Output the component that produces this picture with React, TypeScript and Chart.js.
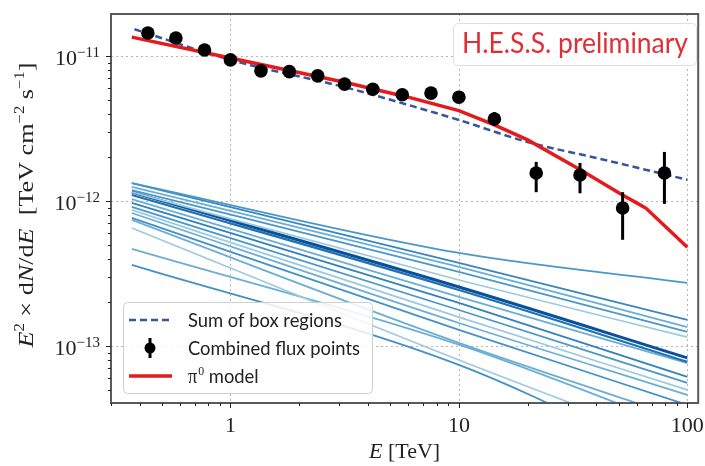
import React, { useEffect, useRef } from 'react';
import { Chart, registerables } from 'chart.js';

Chart.register(...registerables);

// ---------- data ----------
const pointEnergy = [0.435, 0.577, 0.77, 1.0, 1.36, 1.81, 2.41, 3.16, 4.2, 5.65, 7.55, 10.0, 14.3, 21.8, 33.9, 52.1, 79.4];
const pointFlux = [1.44e-11, 1.33e-11, 1.1e-11, 9.4e-12, 7.9e-12, 7.8e-12, 7.3e-12, 6.4e-12, 5.9e-12, 5.4e-12, 5.55e-12, 5.2e-12, 3.68e-12, 1.56e-12, 1.51e-12, 8.95e-13, 1.56e-12];
const pointFluxHigh = [1.5e-11, 1.38e-11, 1.14e-11, 9.7e-12, 8.2e-12, 8.1e-12, 7.6e-12, 6.7e-12, 6.2e-12, 5.75e-12, 5.95e-12, 5.65e-12, 4.1e-12, 1.86e-12, 1.83e-12, 1.15e-12, 2.18e-12];
const pointFluxLow = [1.38e-11, 1.28e-11, 1.06e-11, 9.1e-12, 7.6e-12, 7.5e-12, 7.0e-12, 6.1e-12, 5.6e-12, 5.05e-12, 5.15e-12, 4.75e-12, 3.3e-12, 1.15e-12, 1.13e-12, 5.4e-13, 9.55e-13];

const modelEnergy = [0.37, 1, 3.16, 6, 10, 14.3, 20, 34, 52, 60, 66, 100];
const modelFlux = [1.35e-11, 9.7e-12, 6.6e-12, 5.2e-12, 4.2e-12, 3.35e-12, 2.64e-12, 1.64e-12, 1.1e-12, 9.7e-13, 8.9e-13, 4.8e-13];

const sumEnergy = [0.38, 1, 3.16, 5.8, 10, 20, 40, 100];
const sumFlux = [1.53e-11, 9.4e-12, 6.1e-12, 4.67e-12, 3.62e-12, 2.55e-12, 1.98e-12, 1.4e-12];

const boxEnergy = [0.37, 10, 100];
const boxRegionFlux = [
  [1.33e-12, 4.38e-13, 2.72e-13],
  [1.33e-12, 3.74e-13, 1.51e-13],
  [1.25e-12, 3.51e-13, 1.35e-13],
  [1.19e-12, 3.24e-13, 1.25e-13],
  [1.15e-12, 2.85e-13, 1.15e-13],
  [1.15e-12, 2.55e-13, 8.27e-14],
  [1.1e-12, 2.43e-13, 7.76e-14],
  [1.03e-12, 2.18e-13, 7.6e-14],
  [9.69e-13, 1.98e-13, 6.11e-14],
  [9.09e-13, 1.77e-13, 5.56e-14],
  [8.67e-13, 1.58e-13, 4.97e-14],
  [8.26e-13, 1.44e-13, 4.59e-14],
  [7.64e-13, 1.29e-13, 3.92e-14],
  [7.4e-13, 1.05e-13, 3.09e-14],
  [6.51e-13, 8.0e-14, 2.0e-14],
  [4.67e-13, 1.02e-13, 2.63e-14],
  [3.62e-13, 7.4e-14, 1.4e-14],
];

const xTickValues = [1, 10, 100];
const xTickLabels = ['1', '10', '100'];
const yTickValues = [1e-11, 1e-12, 1e-13];
const yTickExponents = ['\u221211', '\u221212', '\u221213'];

const legendLabels = ['Sum of box regions', 'Combined flux points', 'model'];
const watermark = 'H.E.S.S. preliminary';

// ---------- styles ----------
const boxColors = ['#4a98c9', '#3a87c0', '#6aaed6', '#4a98c9', '#9ecae1', '#08519c', '#2171b5', '#6baed6', '#3182bd', '#4a98c9', '#9ecae1', '#6baed6', '#4292c6', '#6baed6', '#9ecae1', '#6baed6', '#4292c6'];
const boxWidths = [1.8, 1.8, 1.8, 1.8, 1.8, 3, 2.2, 1.8, 1.8, 1.8, 1.8, 1.8, 1.8, 1.8, 1.8, 1.8, 1.8];
const RED = '#e41a1c';
const NAVY = '#36559a';
const SERIF = '"Liberation Serif", "DejaVu Serif", serif';
const SANS = 'Lato, "Open Sans", sans-serif';

type Seg = { t: string; f: string; dy?: number };

function richWidth(ctx: CanvasRenderingContext2D, segs: Seg[]) {
  let w = 0;
  for (const s of segs) {
    ctx.font = s.f;
    w += ctx.measureText(s.t).width;
  }
  return w;
}

function drawRich(ctx: CanvasRenderingContext2D, segs: Seg[], x: number, y: number, align: 'left' | 'center' | 'right') {
  const w = richWidth(ctx, segs);
  let cx = align === 'center' ? x - w / 2 : align === 'right' ? x - w : x;
  ctx.textAlign = 'left';
  ctx.textBaseline = 'alphabetic';
  for (const s of segs) {
    ctx.font = s.f;
    ctx.fillText(s.t, cx, y + (s.dy || 0));
    cx += ctx.measureText(s.t).width;
  }
}

function roundRect(ctx: CanvasRenderingContext2D, x: number, y: number, w: number, h: number, r: number) {
  ctx.beginPath();
  ctx.moveTo(x + r, y);
  ctx.lineTo(x + w - r, y);
  ctx.quadraticCurveTo(x + w, y, x + w, y + r);
  ctx.lineTo(x + w, y + h - r);
  ctx.quadraticCurveTo(x + w, y + h, x + w - r, y + h);
  ctx.lineTo(x + r, y + h);
  ctx.quadraticCurveTo(x, y + h, x, y + h - r);
  ctx.lineTo(x, y + r);
  ctx.quadraticCurveTo(x, y, x + r, y);
  ctx.closePath();
}

const decorPlugin = {
  id: 'decor',
  beforeDatasetsDraw(chart: any) {
    const { ctx, chartArea: a, scales } = chart;
    const x = scales.x, y = scales.y;
    ctx.save();
    ctx.strokeStyle = '#b5b5b5';
    ctx.lineWidth = 1;
    ctx.setLineDash([2, 3]);
    for (const v of xTickValues) {
      const px = Math.round(x.getPixelForValue(v)) + 0.5;
      ctx.beginPath(); ctx.moveTo(px, a.top); ctx.lineTo(px, a.bottom); ctx.stroke();
    }
    for (const v of yTickValues) {
      const py = Math.round(y.getPixelForValue(v)) + 0.5;
      ctx.beginPath(); ctx.moveTo(a.left, py); ctx.lineTo(a.right, py); ctx.stroke();
    }
    ctx.restore();
  },
  afterDatasetsDraw(chart: any) {
    const { ctx, scales } = chart;
    const x = scales.x, y = scales.y;
    ctx.save();
    ctx.strokeStyle = '#000';
    ctx.lineWidth = 3;
    for (let i = 0; i < pointEnergy.length; i++) {
      const px = x.getPixelForValue(pointEnergy[i]);
      ctx.beginPath();
      ctx.moveTo(px, y.getPixelForValue(pointFluxHigh[i]));
      ctx.lineTo(px, y.getPixelForValue(pointFluxLow[i]));
      ctx.stroke();
    }
    ctx.restore();
  },
  afterDraw(chart: any) {
    const { ctx, chartArea: a, scales } = chart;
    const x = scales.x, y = scales.y;
    ctx.save();
    // frame
    ctx.strokeStyle = '#5a5a5a';
    ctx.lineWidth = 2;
    ctx.strokeRect(a.left, a.top, a.right - a.left, a.bottom - a.top);

    // ticks
    ctx.strokeStyle = '#222';
    ctx.lineWidth = 1;
    for (let d = -1; d <= 2; d++) {
      for (let m = 1; m <= 9; m++) {
        const v = m * Math.pow(10, d);
        if (v < x.min || v > x.max) continue;
        const px = Math.round(x.getPixelForValue(v)) + 0.5;
        const len = m === 1 ? 5 : 3;
        ctx.beginPath(); ctx.moveTo(px, a.bottom); ctx.lineTo(px, a.bottom + len); ctx.stroke();
      }
    }
    for (let d = -14; d <= -11; d++) {
      for (let m = 1; m <= 9; m++) {
        const v = m * Math.pow(10, d);
        if (v < y.min || v > y.max) continue;
        const py = Math.round(y.getPixelForValue(v)) + 0.5;
        const len = m === 1 ? 5 : 3;
        ctx.beginPath(); ctx.moveTo(a.left, py); ctx.lineTo(a.left - len, py); ctx.stroke();
      }
    }

    // tick labels
    ctx.fillStyle = '#222';
    xTickValues.forEach((v, i) => {
      const px = x.getPixelForValue(v);
      drawRich(ctx, [{ t: xTickLabels[i], f: `22px ${SERIF}` }], px, 432, 'center');
    });
    yTickValues.forEach((v, i) => {
      const py = y.getPixelForValue(v);
      drawRich(ctx, [
        { t: '10', f: `22px ${SERIF}` },
        { t: yTickExponents[i], f: `15px ${SERIF}`, dy: -8 },
      ], 100, py + 9, 'right');
    });

    // axis titles
    drawRich(ctx, [
      { t: 'E', f: `italic 22px ${SERIF}` },
      { t: ' [TeV]', f: `22px ${SERIF}` },
    ], (a.left + a.right) / 2, 458, 'center');

    const ySegs: Seg[] = [
      { t: 'E', f: `italic 22px ${SERIF}` },
      { t: '2', f: `14px ${SERIF}`, dy: -9 },
      { t: ' \u00d7 d', f: `22px ${SERIF}` },
      { t: 'N', f: `italic 22px ${SERIF}` },
      { t: '/d', f: `22px ${SERIF}` },
      { t: 'E', f: `italic 22px ${SERIF}` },
      { t: '  [TeV cm', f: `22px ${SERIF}` },
      { t: '\u22122', f: `14px ${SERIF}`, dy: -9 },
      { t: ' s', f: `22px ${SERIF}` },
      { t: '\u22121', f: `14px ${SERIF}`, dy: -9 },
      { t: ']', f: `22px ${SERIF}` },
    ];
    ctx.save();
    ctx.translate(33, 205);
    ctx.rotate(-Math.PI / 2);
    const yw = richWidth(ctx, ySegs);
    ctx.scale(285 / yw, 1);
    drawRich(ctx, ySegs, 0, 0, 'center');
    ctx.restore();

    // legend
    ctx.save();
    roundRect(ctx, 123.5, 302.5, 249, 91, 4);
    ctx.fillStyle = 'rgba(255,255,255,0.85)';
    ctx.fill();
    ctx.strokeStyle = '#d0d0d0';
    ctx.lineWidth = 1;
    ctx.stroke();

    ctx.strokeStyle = NAVY;
    ctx.lineWidth = 2.5;
    ctx.setLineDash([7, 4]);
    ctx.beginPath(); ctx.moveTo(129, 320); ctx.lineTo(172, 320); ctx.stroke();
    ctx.setLineDash([]);

    ctx.strokeStyle = '#000';
    ctx.lineWidth = 3;
    ctx.beginPath(); ctx.moveTo(150, 338); ctx.lineTo(150, 358); ctx.stroke();
    ctx.fillStyle = '#000';
    ctx.beginPath(); ctx.arc(150, 348, 5.5, 0, Math.PI * 2); ctx.fill();

    ctx.strokeStyle = RED;
    ctx.lineWidth = 3.5;
    ctx.beginPath(); ctx.moveTo(129, 376); ctx.lineTo(172, 376); ctx.stroke();

    ctx.fillStyle = '#222';
    ctx.font = `20px ${SANS}`;
    const sx = 172 / ctx.measureText(legendLabels[1]).width;
    const legendY = [327, 355, 383];
    ctx.save();
    ctx.translate(188, 0);
    ctx.scale(sx, 1);
    ctx.textBaseline = 'alphabetic';
    ctx.textAlign = 'left';
    ctx.font = `20px ${SANS}`;
    ctx.fillText(legendLabels[0], 0, legendY[0]);
    ctx.fillText(legendLabels[1], 0, legendY[1]);
    ctx.font = `20px ${SERIF}`;
    ctx.fillText('\u03c0', 0, legendY[2]);
    let w = ctx.measureText('\u03c0').width;
    ctx.font = `13px ${SERIF}`;
    ctx.fillText('0', w + 1, legendY[2] - 8);
    w += ctx.measureText('0').width + 6;
    ctx.font = `20px ${SANS}`;
    ctx.fillText(legendLabels[2], w, legendY[2]);
    ctx.restore();
    ctx.restore();

    // watermark box
    ctx.save();
    roundRect(ctx, 453.5, 23.5, 243, 42, 5);
    ctx.fillStyle = 'rgba(255,255,255,0.9)';
    ctx.fill();
    ctx.strokeStyle = '#dedede';
    ctx.lineWidth = 1;
    ctx.stroke();
    ctx.fillStyle = '#dc2f36';
    ctx.font = `29px ${SANS}`;
    const ww = ctx.measureText(watermark).width;
    ctx.translate(462, 53);
    ctx.scale(226 / ww, 1);
    ctx.textAlign = 'left';
    ctx.textBaseline = 'alphabetic';
    ctx.fillText(watermark, 0, 0);
    ctx.restore();

    ctx.restore();
  },
};

export default function App() {
  const canvasRef = useRef<HTMLCanvasElement | null>(null);

  useEffect(() => {
    const canvas = canvasRef.current;
    if (!canvas) return;

    const boxSets = boxRegionFlux.map((vals, i) => ({
      label: `box ${i + 1}`,
      data: boxEnergy.map((e, j) => ({ x: e, y: vals[j] })),
      borderColor: boxColors[i],
      borderWidth: boxWidths[i],
      pointRadius: 0,
      fill: false,
      cubicInterpolationMode: 'monotone' as const,
      order: 3,
    }));

    const chart = new Chart(canvas, {
      type: 'line',
      data: {
        datasets: [
          {
            label: legendLabels[1],
            data: pointEnergy.map((e, i) => ({ x: e, y: pointFlux[i] })),
            showLine: false,
            pointRadius: 6.8,
            pointBackgroundColor: '#000',
            pointBorderColor: '#000',
            pointBorderWidth: 0,
            order: 0,
          },
          {
            label: legendLabels[2],
            data: modelEnergy.map((e, i) => ({ x: e, y: modelFlux[i] })),
            borderColor: RED,
            borderWidth: 3.5,
            pointRadius: 0,
            fill: false,
            tension: 0,
            order: 1,
          },
          {
            label: legendLabels[0],
            data: sumEnergy.map((e, i) => ({ x: e, y: sumFlux[i] })),
            borderColor: NAVY,
            borderWidth: 2.5,
            borderDash: [7, 4],
            pointRadius: 0,
            fill: false,
            cubicInterpolationMode: 'monotone',
            order: 2,
          },
          ...boxSets,
        ] as any,
      },
      options: {
        responsive: false,
        animation: false,
        devicePixelRatio: 1,
        layout: { padding: { top: 14, right: 4, left: 0, bottom: 0 } },
        plugins: { legend: { display: false }, tooltip: { enabled: false } },
        scales: {
          x: {
            type: 'logarithmic',
            min: 0.3038,
            max: 111.6,
            ticks: { display: false },
            grid: { display: false },
            border: { display: false },
            afterFit: (s: any) => { s.height = 63; },
          },
          y: {
            type: 'logarithmic',
            min: 4.04e-14,
            max: 1.949e-11,
            ticks: { display: false },
            grid: { display: false },
            border: { display: false },
            afterFit: (s: any) => { s.width = 111; },
          },
        },
      } as any,
      plugins: [decorPlugin],
    });

    return () => chart.destroy();
  }, []);

  return (
    <div style={{ position: 'fixed', left: 0, top: 0, width: 705, height: 466, background: '#fff' }}>
      <canvas ref={canvasRef} width={705} height={466} style={{ display: 'block' }} />
    </div>
  );
}
